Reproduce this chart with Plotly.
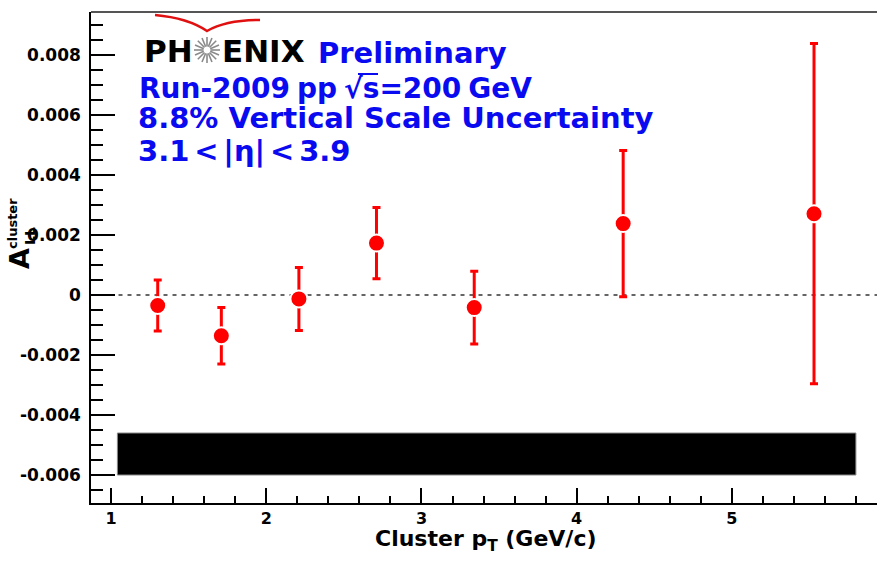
import math
import plotly.graph_objects as go

# ---------------- data ----------------
pt_x = [1.30, 1.71, 2.21, 2.71, 3.34, 4.30, 5.53]
a_ll = [-0.00035, -0.00136, -0.00013, 0.00173, -0.00042, 0.00238, 0.00271]
a_ll_err = [0.00085, 0.00094, 0.00105, 0.00119, 0.00121, 0.00244, 0.00567]
band_x = [1.040, 5.800]
band_y = [-0.0060, -0.0046]
y_tickvals = [-0.006, -0.004, -0.002, 0, 0.002, 0.004, 0.006, 0.008]
y_ticktext = ["-0.006", "-0.004", "-0.002", "0", "0.002", "0.004", "0.006", "0.008"]
x_tickvals = [1, 2, 3, 4, 5]
x_ticktext = ["1", "2", "3", "4", "5"]
x_range = [0.870, 5.936]
y_range = [-0.006933, 0.009433]

# ---------------- layout geometry ----------------
W, H = 877, 562
L, R, T, B = 91, 0, 12, 59
PW, PH = W - L - R, H - T - B
FONT = "DejaVu Sans"
BLUE = "#0a0af0"
SP = "\u2005"   # narrower space
TSP = "\u2006"  # thin space


def P(px, py):
    return ((px - L) / PW, (H - B - py) / PH)


fig = go.Figure()

fig.add_trace(go.Scatter(
    x=pt_x, y=a_ll, mode="markers",
    marker=dict(color="#ff0000", size=17, line=dict(color="white", width=2)),
    error_y=dict(type="data", array=a_ll_err, visible=True,
                 color="#ff0000", thickness=3, width=4),
    showlegend=False, hoverinfo="x+y",
))

shapes = []
# systematic band
shapes.append(dict(type="rect", xref="x", yref="y",
                   x0=band_x[0], x1=band_x[1], y0=band_y[0], y1=band_y[1],
                   fillcolor="black", line=dict(color="#888888", width=1), layer="below"))
# zero line
shapes.append(dict(type="line", xref="x domain", yref="y", x0=0.035, x1=1, y0=0, y1=0,
                   line=dict(color="#333333", width=1.6, dash="4px,5px"), layer="below"))
# top frame
shapes.append(dict(type="line", xref="paper", yref="paper", x0=0, x1=1, y0=1, y1=1,
                   line=dict(color="#555555", width=2)))

# PHENIX logo swoosh
pts = [(155, 15), (188, 18), (207, 31), (226, 20), (260, 20)]
pp = [P(*q) for q in pts]
path = "M {:.5f},{:.5f} Q {:.5f},{:.5f} {:.5f},{:.5f} Q {:.5f},{:.5f} {:.5f},{:.5f}".format(
    pp[0][0], pp[0][1], pp[1][0], pp[1][1], pp[2][0], pp[2][1], pp[3][0], pp[3][1], pp[4][0], pp[4][1])
shapes.append(dict(type="path", xref="paper", yref="paper", path=path,
                   line=dict(color="#e01010", width=2.5)))
# logo star
cx, cy = 207, 50
for k in range(16):
    ang = 2 * math.pi * k / 16
    r0, r1 = 3.5, 13
    a0 = P(cx + r0 * math.cos(ang), cy + r0 * math.sin(ang))
    a1 = P(cx + r1 * math.cos(ang), cy + r1 * math.sin(ang))
    shapes.append(dict(type="line", xref="paper", yref="paper",
                       x0=a0[0], y0=a0[1], x1=a1[0], y1=a1[1],
                       line=dict(color="#8a8a8a", width=1.6)))

annotations = []


def txt(text, px, py, size, color="black", xanchor="left", yanchor="middle", angle=0):
    x, y = P(px, py)
    annotations.append(dict(text=text, x=x, y=y, xref="paper", yref="paper",
                            xanchor=xanchor, yanchor=yanchor, showarrow=False,
                            textangle=angle,
                            font=dict(family=FONT, size=size, color=color)))


# logo letters
txt("<b>PH</b>", 195, 51, 31, xanchor="right")
txt("<b>ENIX</b>", 220, 51, 31, xanchor="left")
# blue labels
txt("<b>Preliminary</b>", 316, 53, 29, color=BLUE)
txt("<b>Run-2009" + SP + "pp" + SP + "√s=200" + SP + "GeV</b>", 137, 88, 28, color=BLUE)
txt("<b>8.8% Vertical Scale Uncertainty</b>", 136, 118, 29, color=BLUE)
txt("<b>3.1" + TSP + "&lt;" + TSP + "|η|" + TSP + "&lt;" + TSP + "3.9</b>", 136, 151, 29, color=BLUE)
# sqrt overline
o0, o1 = P(358, 74), P(378, 74)
shapes.append(dict(type="line", xref="paper", yref="paper", x0=o0[0], x1=o1[0], y0=o0[1], y1=o1[1],
                   line=dict(color=BLUE, width=2)))

# axis titles
txt("<b>Cluster p<sub>T</sub> (GeV/c)</b>", 486, 540, 22, xanchor="center")
txt("<b>A</b>", 19, 259, 27, xanchor="center", yanchor="middle", angle=-90)
txt("<b>LL</b>", 30, 236, 14, xanchor="center", yanchor="middle", angle=-90)
txt("<b>cluster</b>", 12, 224, 13, xanchor="center", yanchor="middle", angle=-90)

fig.update_layout(
    width=W, height=H,
    margin=dict(l=L, r=R, t=T, b=B, pad=0),
    paper_bgcolor="white", plot_bgcolor="white",
    shapes=shapes, annotations=annotations,
    showlegend=False,
)

fig.update_xaxes(
    range=x_range, showgrid=False, zeroline=False,
    showline=True, linecolor="black", linewidth=1.5,
    ticks="inside", ticklen=15, tickwidth=1.5, tickcolor="black",
    tickvals=x_tickvals, ticktext=x_ticktext,
    tickfont=dict(family=FONT, size=16, color="black", weight="bold"),
    minor=dict(ticks="inside", ticklen=7, tickwidth=1.5, tickcolor="black", dtick=0.2, showgrid=False),
    ticklabelstandoff=0,
)
fig.update_yaxes(
    range=y_range, showgrid=False, zeroline=False,
    showline=True, linecolor="black", linewidth=1.5,
    ticks="inside", ticklen=24, tickwidth=1.5, tickcolor="black",
    tickvals=y_tickvals, ticktext=y_ticktext,
    tickfont=dict(family=FONT, size=17, color="black", weight="bold"),
    minor=dict(ticks="inside", ticklen=12, tickwidth=1.5, tickcolor="black", dtick=0.0005, showgrid=False),
    ticklabelstandoff=5,
)

fig.write_html("out.html")
